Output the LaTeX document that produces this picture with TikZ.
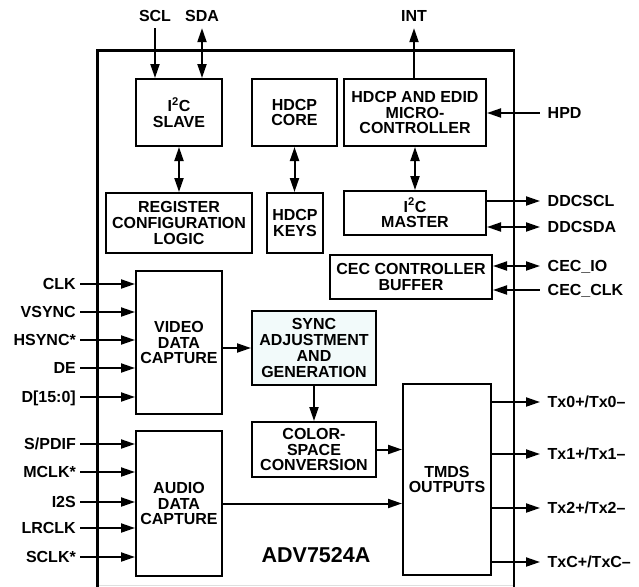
\documentclass[tikz,border=0pt]{standalone}
\usepackage{fontspec}
\setmainfont{Liberation Sans}
\usetikzlibrary{arrows.meta}
\definecolor{syncfill}{RGB}{242,250,250}
\tikzset{
  x=1pt,y=-1pt,
  box/.style={draw,line width=2pt,inner sep=0pt,align=center,
    font=\fontsize{16}{15.8}\selectfont\bfseries},
  lbl/.style={inner ysep=0pt,text height=11.5pt,text depth=0pt,
    font=\fontsize{16}{15.8}\selectfont\bfseries},
  pinl/.style={lbl,anchor=east,inner xsep=4pt},
  pinr/.style={lbl,anchor=west,inner xsep=7.5pt},
  pint/.style={lbl,inner ysep=6.2pt},
  tip/.style={Triangle[length=14pt,width=9pt]},
  arr/.style={line width=2pt,-{Triangle[length=14pt,width=9pt]}},
  larr/.style={line width=2pt,{Triangle[length=14pt,width=9pt]}-},
  darr/.style={line width=2pt,{Triangle[length=14pt,width=9pt]}-{Triangle[length=14pt,width=9pt]}},
}
\begin{document}
\begin{tikzpicture}
\useasboundingbox (0,0) rectangle (639,586);
% chip outline
\draw[line width=2.6pt] (97.7,590) -- (97.7,50.7) -- (514,50.7) -- (514,590);
\draw[gray!25,line width=1pt] (99,585.5) -- (513,585.5);

% boxes
\node[box,minimum width=86,minimum height=67] (i2cs) at (179,112.5) {I\textsuperscript{2}C\\SLAVE};
\node[box,minimum width=85,minimum height=67] (core) at (294.5,112.5) {HDCP\\CORE};
\node[box,minimum width=142,minimum height=67] (micro) at (415,112.5) {HDCP AND EDID\\MICRO-\\CONTROLLER};
\node[box,minimum width=146,minimum height=60] (reg) at (179,223) {REGISTER\\CONFIGURATION\\LOGIC};
\node[box,minimum width=56,minimum height=60] (keys) at (295,223) {HDCP\\KEYS};
\node[box,minimum width=142,minimum height=44] (master) at (415,213) {I\textsuperscript{2}C\\MASTER};
\node[box,minimum width=162,minimum height=44] (cec) at (411,277) {CEC CONTROLLER\\BUFFER};
\node[box,minimum width=86,minimum height=143] (video) at (179,342.5) {VIDEO\\DATA\\CAPTURE};
\node[box,fill=syncfill,minimum width=124,minimum height=74] (sync) at (314,348) {SYNC\\ADJUSTMENT\\AND\\GENERATION};
\node[box,minimum width=124,minimum height=55] (color) at (314,449.5) {COLOR-\\SPACE\\CONVERSION};
\node[box,minimum width=88,minimum height=191] (tmds) at (447,479.5) {TMDS\\OUTPUTS};
\node[box,minimum width=86,minimum height=145] (audio) at (179,503.5) {AUDIO\\DATA\\CAPTURE};
\node[font=\fontsize{21.5}{21.5}\selectfont\bfseries] (part) at (316,555) {ADV7524A};

% top pins
\node[pint] (scl) at (155,16) {SCL};
\node[pint] (sda) at (202,16) {SDA};
\node[pint] (int) at (414,16) {INT};
\draw[arr] (scl.south) -- (scl.south |- i2cs.north);
\draw[darr] (sda.south) -- (sda.south |- i2cs.north);
\draw[arr] (int.south |- micro.north) -- (int.south);

% internal connections
\draw[darr] (i2cs.south) -- (i2cs.south |- reg.north);
\draw[darr] (core.south) -- (core.south |- keys.north);
\draw[darr] (micro.south) -- (micro.south |- master.north);
\draw[arr] (sync.west -| video.east) -- (sync.west);
\draw[arr] (sync.south) -- (sync.south |- color.north);
\draw[arr] (color.east) -- (color.east -| tmds.west);
\draw[arr] (audio.east) -- (audio.east -| tmds.west);

% left pins
\node[pinl] (clk) at (80,284) {CLK};
\node[pinl] (vsync) at (80,312) {VSYNC};
\node[pinl] (hsync) at (80,340) {HSYNC*};
\node[pinl] (de) at (80,368) {DE};
\node[pinl] (d) at (80,397) {D[15:0]};
\node[pinl] (spdif) at (80,444) {S/PDIF};
\node[pinl] (mclk) at (80,472) {MCLK*};
\node[pinl] (i2s) at (80,502) {I2S};
\node[pinl] (lrclk) at (80,528) {LRCLK};
\node[pinl] (sclk) at (80,557) {SCLK*};
\foreach \p in {clk,vsync,hsync,de,d} \draw[arr] (\p.east) -- (\p.east -| video.west);
\foreach \p in {spdif,mclk,i2s,lrclk,sclk} \draw[arr] (\p.east) -- (\p.east -| audio.west);

% right pins
\node[pinr] (hpd) at (540,113) {HPD};
\node[pinr] (ddcscl) at (540,201) {DDCSCL};
\node[pinr] (ddcsda) at (540,227) {DDCSDA};
\node[pinr] (cecio) at (540,266) {CEC\_IO};
\node[pinr] (cecclk) at (540,290) {CEC\_CLK};
\node[pinr] (tx0) at (540,402) {Tx0+/Tx0--};
\node[pinr] (tx1) at (540,454) {Tx1+/Tx1--};
\node[pinr] (tx2) at (540,508) {Tx2+/Tx2--};
\node[pinr] (txc) at (540,562) {TxC+/TxC--};
\draw[larr] (hpd.west -| micro.east) -- (hpd.west);
\draw[arr] (ddcscl.west -| master.east) -- (ddcscl.west);
\draw[darr] (ddcsda.west -| master.east) -- (ddcsda.west);
\draw[darr] (cecio.west -| cec.east) -- (cecio.west);
\draw[larr] (cecclk.west -| cec.east) -- (cecclk.west);
\foreach \p in {tx0,tx1,tx2,txc} \draw[arr] (\p.west -| tmds.east) -- (\p.west);
\end{tikzpicture}
\end{document}
